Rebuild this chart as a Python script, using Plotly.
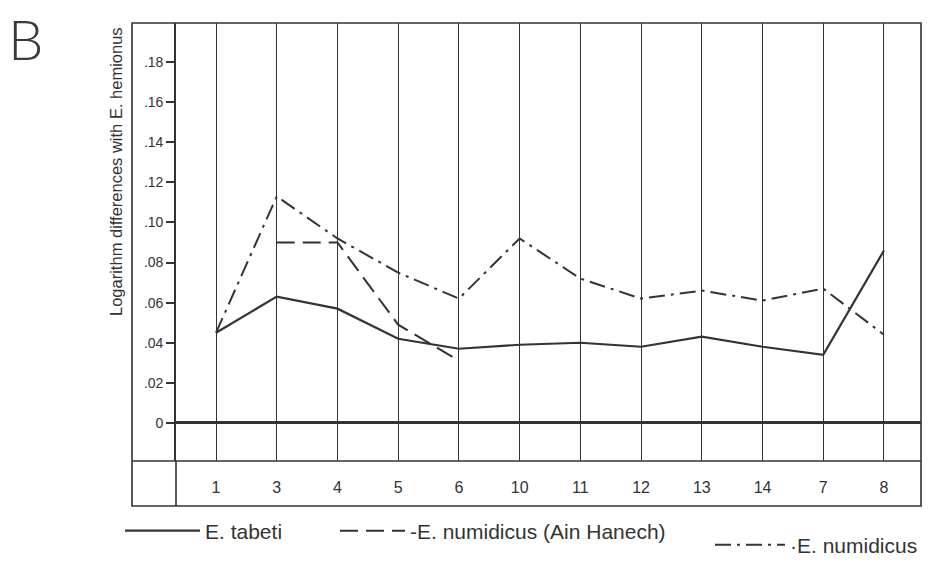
import plotly.graph_objects as go

# ---- data ----
categories = ["1", "3", "4", "5", "6", "10", "11", "12", "13", "14", "7", "8"]
tabeti = [0.045, 0.063, 0.057, 0.042, 0.037, 0.039, 0.040, 0.038, 0.043, 0.038, 0.034, 0.086]
numidicus_ain_hanech = [None, 0.090, 0.090, 0.049, 0.031, None, None, None, None, None, None, None]
numidicus = [0.045, 0.113, 0.092, 0.075, 0.062, 0.092, 0.072, 0.062, 0.066, 0.061, 0.067, 0.044]
y_tick_values = [0, 0.02, 0.04, 0.06, 0.08, 0.10, 0.12, 0.14, 0.16, 0.18]
y_tick_labels = ["0", ".02", ".04", ".06", ".08", ".10", ".12", ".14", ".16", ".18"]

INK = "#333333"
FONT = "Liberation Sans, Arial, sans-serif"

xs = list(range(len(categories)))

fig = go.Figure()
fig.add_trace(go.Scatter(
    x=xs, y=tabeti, mode="lines", name="E. tabeti",
    line=dict(color=INK, width=2.2), legend="legend"))
fig.add_trace(go.Scatter(
    x=xs, y=numidicus_ain_hanech, mode="lines", name="-E. numidicus (Ain Hanech)",
    line=dict(color=INK, width=2, dash="18px,8px"), legend="legend2"))
fig.add_trace(go.Scatter(
    x=xs, y=numidicus, mode="lines", name="·E. numidicus",
    line=dict(color=INK, width=2, dash="16px,6px,3px,6px"), legend="legend3"))

# plot area in px: left 176, right 921, top 23, bottom 461
W, H = 928, 564
L, R, T, B = 176, 921, 23, 461
pw, ph = R - L, B - T

def px(xp):
    return (xp - L) / pw

def py(yp):
    return (B - yp) / ph

frame_left = px(132)
frame_bottom = py(506)

shapes = [
    dict(type="rect", xref="paper", yref="paper", x0=frame_left, x1=1, y0=frame_bottom, y1=1,
         line=dict(color=INK, width=1.6)),
    dict(type="line", xref="paper", yref="paper", x0=frame_left, x1=1, y0=0, y1=0,
         line=dict(color=INK, width=1.6)),
    dict(type="line", xref="paper", yref="paper", x0=0, x1=0, y0=frame_bottom, y1=0,
         line=dict(color=INK, width=1.6)),
]

annotations = [
    dict(text="B", xref="paper", yref="paper", x=px(25), y=py(38), showarrow=False,
         xanchor="center", yanchor="middle",
         font=dict(family="Lato, sans-serif", size=56, color="#3a3a3a", weight=300)),
    dict(text="Logarithm differences with E. hemionus", xref="paper", yref="paper",
         x=px(116), y=py(172), showarrow=False, textangle=-90,
         xanchor="center", yanchor="middle",
         font=dict(family=FONT, size=16.5, color=INK)),
]

legend_common = dict(orientation="h", bgcolor="rgba(0,0,0,0)", borderwidth=0,
                     font=dict(family=FONT, size=21, color=INK),
                     xanchor="left", yanchor="middle", xref="paper", yref="paper")

fig.update_layout(
    width=W, height=H,
    margin=dict(l=L, r=W - R, t=T, b=H - B, autoexpand=False),
    paper_bgcolor="white", plot_bgcolor="white",
    showlegend=True,
    legend=dict(x=px(120), y=py(531), itemwidth=75, **legend_common),
    legend2=dict(x=px(335), y=py(531), itemwidth=65, **legend_common),
    legend3=dict(x=px(710), y=py(545), itemwidth=70, **legend_common),
    xaxis=dict(
        range=[-0.659, 11.61], tickmode="array", tickvals=xs, ticktext=categories,
        showgrid=True, gridcolor=INK, gridwidth=1.3, zeroline=False, showline=False,
        ticks="", ticklabelstandoff=15,
        tickfont=dict(family=FONT, size=16, color=INK),
    ),
    yaxis=dict(
        range=[-0.019, 0.1995], tickmode="array", tickvals=y_tick_values, ticktext=y_tick_labels,
        showgrid=False, showline=True, linecolor=INK, linewidth=1.6,
        ticks="outside", ticklen=8, tickwidth=1.5, tickcolor=INK,
        zeroline=True, zerolinecolor=INK, zerolinewidth=3,
        tickfont=dict(family=FONT, size=14, color=INK),
    ),
    shapes=shapes,
    annotations=annotations,
)

fig.write_html("out.html")
